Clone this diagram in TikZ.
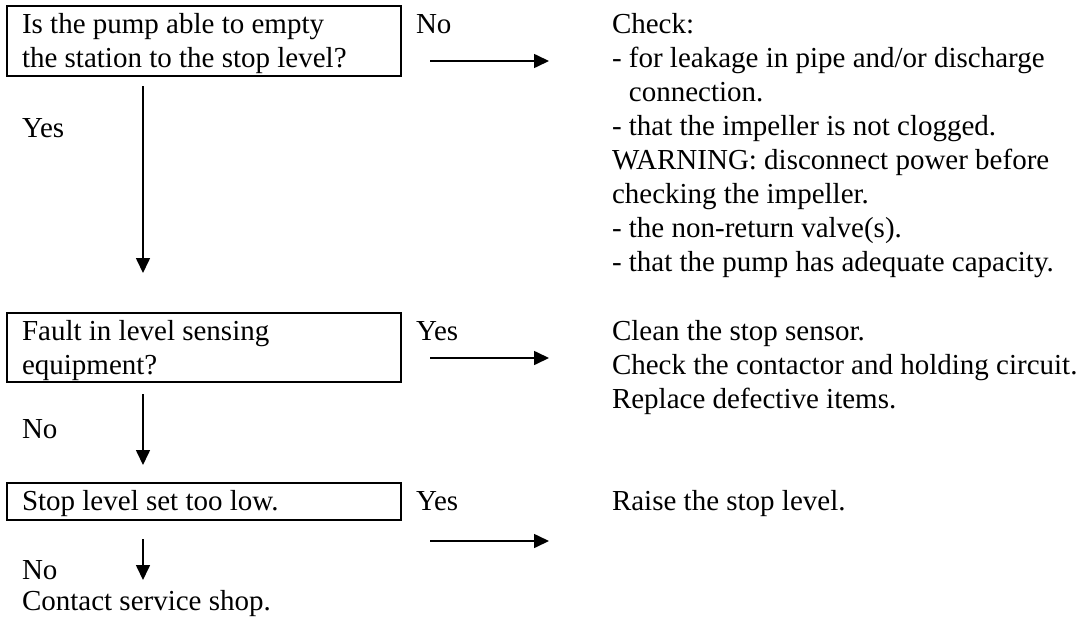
\documentclass[tikz,border=0pt]{standalone}
\usepackage{fontspec}
\setmainfont{Liberation Serif}
\usetikzlibrary{arrows.meta}
\begin{document}
\begin{tikzpicture}[x=0.4pt,y=-0.4pt,
  every node/.style={font=\fontsize{11.6}{13.6}\selectfont},
  txt/.style={anchor=base west, inner sep=0pt, outer sep=0pt},
  qbox/.style={draw, line width=0.8pt, anchor=north west, inner sep=0pt, outer sep=0pt, minimum width=157.6pt},
  flow/.style={line width=0.65pt, -{Triangle[length=6pt,width=5.6pt]}}]
\useasboundingbox (0,0) rectangle (1086,620);

% question boxes
\node[qbox, minimum height=28pt] (q1) at (7,6) {};
\node[qbox, minimum height=27.6pt] (q2) at (7,313) {};
\node[qbox, minimum height=14.8pt] (q3) at (7,483) {};

% box texts
\node[txt] (q1a) at (22,33) {Is the pump able to empty};
\node[txt] (q1b) at (22,67) {the station to the stop level?};
\node[txt] (q2a) at (22,340) {Fault in level sensing};
\node[txt] (q2b) at (22,374) {equipment?};
\node[txt] (q3a) at (22,510) {Stop level set too low.};

% branch labels
\node[txt] (l1) at (416,33) {No};
\node[txt] (l2) at (416,340) {Yes};
\node[txt] (l3) at (416,510) {Yes};
\node[txt] (d1) at (22,137) {Yes};
\node[txt] (d2) at (22,438) {No};
\node[txt] (d3) at (22,579) {No};
\node[txt] (endt) at (22,610) {Contact service shop.};

% right column actions
\node[txt] (r1a) at (612,33) {Check:};
\node[txt] (r1b) at (612,67) {- for leakage in pipe and/or discharge};
\node[txt] (r1c) at (612,101) {\phantom{- }connection.};
\node[txt] (r1d) at (612,135) {- that the impeller is not clogged.};
\node[txt] (r1e) at (612,169) {WARNING: disconnect power before};
\node[txt] (r1f) at (612,203) {checking the impeller.};
\node[txt] (r1g) at (612,237) {- the non-return valve(s).};
\node[txt] (r1h) at (612,271) {- that the pump has adequate capacity.};

\node[txt] (r2a) at (612,340) {Clean the stop sensor.};
\node[txt] (r2b) at (612,374) {Check the contactor and holding circuit.};
\node[txt] (r2c) at (612,408) {Replace defective items.};

\node[txt] (r3a) at (612,510) {Raise the stop level.};

% arrow end points
\coordinate (h1s) at (430,61);  \coordinate (h1e) at (549,61);
\coordinate (h2s) at (430,358); \coordinate (h2e) at (549,358);
\coordinate (h3s) at (430,541); \coordinate (h3e) at (549,541);
\coordinate (v1s) at (143,86);  \coordinate (v1e) at (143,273);
\coordinate (v2s) at (143,394); \coordinate (v2e) at (143,465);
\coordinate (v3s) at (143,539); \coordinate (v3e) at (143,580);

\draw[flow] (h1s) -- (h1e);
\draw[flow] (h2s) -- (h2e);
\draw[flow] (h3s) -- (h3e);
\draw[flow] (v1s) -- (v1e);
\draw[flow] (v2s) -- (v2e);
\draw[flow] (v3s) -- (v3e);
\end{tikzpicture}
\end{document}
